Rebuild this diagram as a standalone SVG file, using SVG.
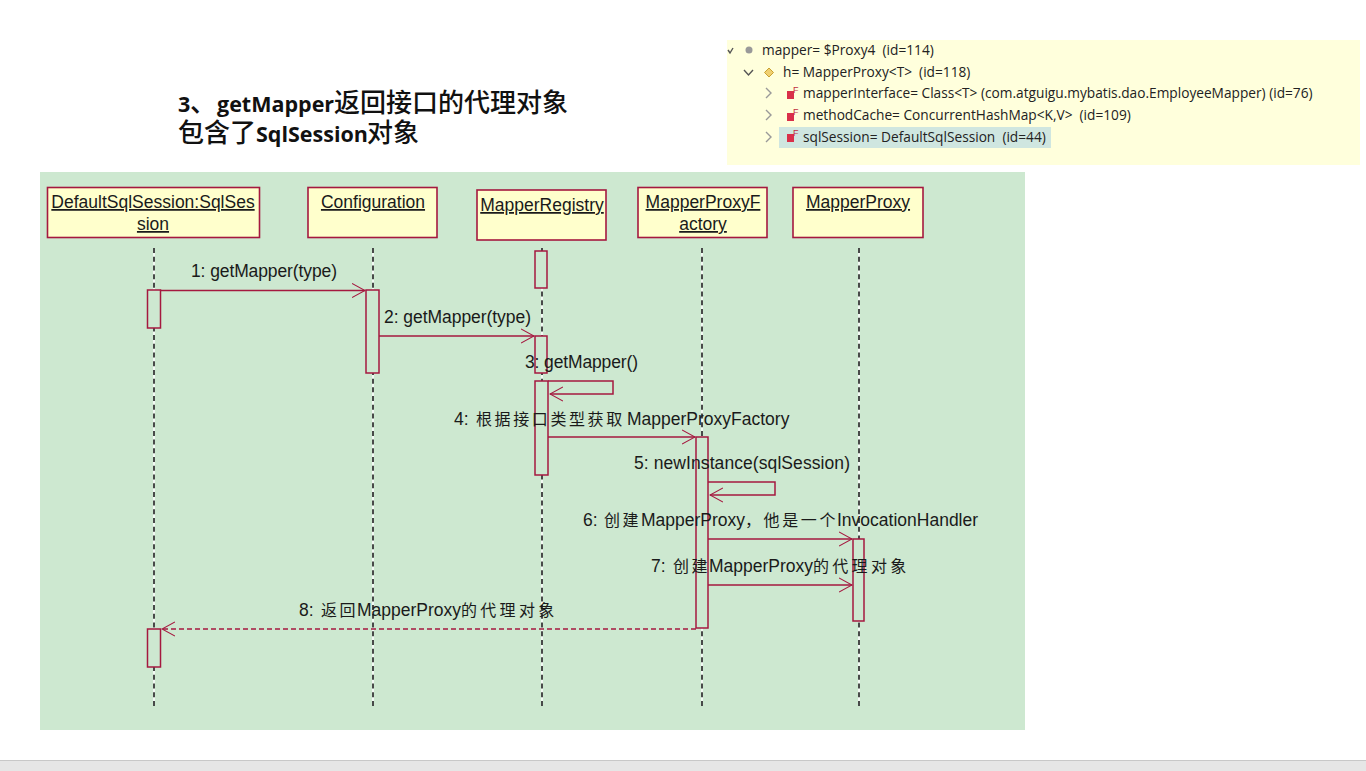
<svg xmlns="http://www.w3.org/2000/svg" width="1366" height="771" viewBox="0 0 1366 771">
<style>
text{font-family:"Liberation Sans","Noto Sans CJK SC",sans-serif;fill:#1a1a1a}
.title{font-family:"Open Sans","Noto Sans CJK SC",sans-serif;font-size:21.500px;font-weight:700;fill:#111}
.t-cjk{font-family:"Noto Sans CJK SC",sans-serif;font-size:26px;font-weight:500}
.dbg{font-family:"Open Sans","Noto Sans",sans-serif;font-size:13.700px;fill:#222;white-space:pre}
.name{font-size:17.500px;text-decoration:underline;text-anchor:middle}
.msg{font-size:17.500px}
.c{font-size:16px;letter-spacing:2.600px}
.c2{font-size:16px;letter-spacing:3.300px}
.box{fill:#ffffcc;stroke:#a5183f;stroke-width:1.6}
.act{fill:#cde8d0;stroke:#a5183f;stroke-width:1.5}
.m{fill:none;stroke:#a5183f;stroke-width:1.5}
.lw{stroke:#fff;stroke-width:1.5;fill:none}
.lb{stroke:#111;stroke-width:1.5;stroke-dasharray:5 3.710;fill:none}
.chev{fill:none;stroke:#999;stroke-width:1.4}
.fld{fill:#d9304a}
.fl{font-size:9px;fill:#c03040}
</style>
<defs>
<marker id="open" viewBox="0 0 14 16" refX="13" refY="8" markerWidth="14" markerHeight="16" markerUnits="userSpaceOnUse" orient="auto"><path d="M0 1 L13 8 L0 15" fill="none" stroke="#a5183f" stroke-width="1.100"/></marker>
</defs>
<rect width="1366" height="771" fill="#fff"/>
<rect id="debug-panel" x="727" y="40" width="633" height="125" fill="#ffffdc"/>
<rect x="779" y="127" width="272" height="21" fill="#cfe6e0"/>
<g id="debug-tree">
<path class="chev" style="stroke:#555" d="M728 50l2 3 3-5"/>
<circle cx="749" cy="50" r="3.500" fill="#999"/>
<text class="dbg" x="762" y="55">mapper= $Proxy4  (id=114)</text>
<path class="chev" style="stroke:#555" d="M744 70l4.500 5 4.500-5"/>
<path d="M769 68l4.500 4.500-4.500 4.500-4.500-4.500z" fill="#f0d070" stroke="#c9a030"/>
<text class="dbg" x="783" y="77">h= MapperProxy&lt;T&gt;  (id=118)</text>
<path class="chev" d="M766 88l5 5-5 5"/>
<rect class="fld" x="787" y="91" width="7" height="8"/><text class="fl" x="793" y="93">F</text>
<text class="dbg" x="803" y="98">mapperInterface= Class&lt;T&gt; (com.atguigu.mybatis.dao.EmployeeMapper) (id=76)</text>
<path class="chev" d="M766 110l5 5-5 5"/>
<rect class="fld" x="787" y="113" width="7" height="8"/><text class="fl" x="793" y="115">F</text>
<text class="dbg" x="803" y="120">methodCache= ConcurrentHashMap&lt;K,V&gt;  (id=109)</text>
<path class="chev" d="M766 132l5 5-5 5"/>
<rect class="fld" x="787" y="134" width="7" height="8"/><text class="fl" x="793" y="136">F</text>
<text class="dbg" x="803" y="142">sqlSession= DefaultSqlSession  (id=44)</text>
</g>
<g id="heading">
<text class="title" x="178" y="112">3<tspan class="t-cjk" x="190">、</tspan><tspan x="217">getMapper</tspan><tspan class="t-cjk" x="334">返回接口的代理对象</tspan></text>
<text class="title" x="178" y="142"><tspan class="t-cjk">包含了</tspan><tspan x="256">SqlSession</tspan><tspan class="t-cjk" x="367">对象</tspan></text>
</g>
<rect id="panel" x="40" y="172" width="985" height="558" fill="#cde8d0"/>
<g id="lifelines">
<path class="lw" d="M154 248V706M373 248V706M542 248V706M702 248V706M859 248V706"/>
<path class="lb" d="M154 248V706M373 248V706M542 248V706M702 248V706M859 248V706"/>
</g>
<g id="activations">
<rect class="act" x="147.500" y="290" width="13" height="38"/>
<rect class="act" x="147.500" y="629" width="13" height="38"/>
<rect class="act" x="366" y="290" width="13" height="83"/>
<rect class="act" x="535" y="251" width="12" height="37"/>
<rect class="act" x="535" y="336" width="12" height="37"/>
<rect class="act" x="535" y="381" width="13" height="94"/>
<rect class="act" x="696" y="437" width="12" height="191"/>
<rect class="act" x="853" y="539" width="11" height="82"/>
</g>
<g id="node-session"><rect class="box" x="47.500" y="187.500" width="212" height="50"/><text class="name" x="153" y="208">DefaultSqlSession:SqlSes</text><text class="name" x="153" y="230">sion</text></g>
<g id="node-configuration"><rect class="box" x="308" y="187.500" width="129" height="50"/><text class="name" x="373" y="208">Configuration</text></g>
<g id="node-registry"><rect class="box" x="477" y="190" width="129" height="50"/><text class="name" x="542" y="211">MapperRegistry</text></g>
<g id="node-factory"><rect class="box" x="638" y="187.500" width="129" height="50"/><text class="name" x="703" y="208">MapperProxyF</text><text class="name" x="703" y="230">actory</text></g>
<g id="node-proxy"><rect class="box" x="793" y="187.500" width="130" height="50"/><text class="name" x="858" y="208">MapperProxy</text></g>
<g id="connectors">
<path class="m" marker-end="url(#open)" d="M160 290.500H365"/>
<path class="m" marker-end="url(#open)" d="M379 336H534"/>
<path class="m" marker-end="url(#open)" d="M548 381H613V394H550"/>
<path class="m" marker-end="url(#open)" d="M548 437H695"/>
<path class="m" marker-end="url(#open)" d="M708 482H775V495H710"/>
<path class="m" marker-end="url(#open)" d="M708 539H852"/>
<path class="m" marker-end="url(#open)" d="M708 585H852"/>
<path class="m" stroke-dasharray="5 3" marker-end="url(#open)" d="M696 629H162"/>
</g>
<g id="labels">
<text class="msg" x="191" y="277" textLength="146">1: getMapper(type)</text>
<text class="msg" x="384" y="323" textLength="147">2: getMapper(type)</text>
<text class="msg" x="525" y="368" textLength="113">3: getMapper()</text>
<text class="msg" x="454" y="425">4: <tspan class="c" x="476">根据接口类型获取</tspan><tspan x="627">MapperProxyFactory</tspan></text>
<text class="msg" x="634" y="469" textLength="216">5: newInstance(sqlSession)</text>
<text class="msg" x="583" y="526">6: <tspan class="c" x="604">创建</tspan><tspan x="641">MapperProxy</tspan><tspan class="c" x="745">，他是一个</tspan><tspan x="837">InvocationHandler</tspan></text>
<text class="msg" x="651" y="572">7: <tspan class="c" x="673">创建</tspan><tspan x="709">MapperProxy</tspan><tspan class="c2" x="813">的代理对象</tspan></text>
<text class="msg" x="299" y="616">8: <tspan class="c" x="321">返回</tspan><tspan x="357">MapperProxy</tspan><tspan class="c2" x="461">的代理对象</tspan></text>
</g>
<rect id="status-bar" x="0" y="760" width="1366" height="11" fill="#e6e6e6"/>
<rect x="0" y="760" width="1366" height="1" fill="#c8c8c8"/>
</svg>
